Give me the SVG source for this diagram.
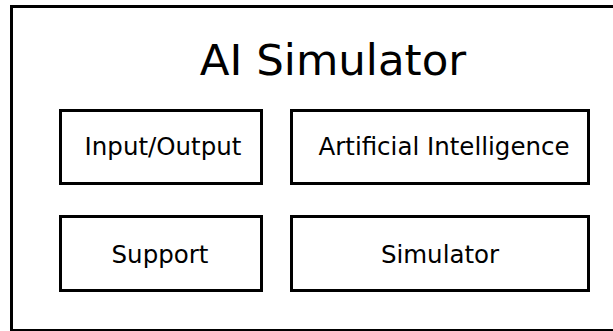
<svg xmlns="http://www.w3.org/2000/svg" width="613" height="331" viewBox="0 0 613 331">
  <style>
    .frame { fill: #ffffff; stroke: #000000; stroke-width: 3; }
    .box { fill: #ffffff; stroke: #000000; stroke-width: 3; }
    .label { font-family: "DejaVu Sans", sans-serif; font-size: 24.5px; fill: #000000; text-anchor: middle; }
    .title { font-family: "DejaVu Sans", sans-serif; font-size: 43.5px; fill: #000000; text-anchor: middle; }
  </style>
  <rect x="0" y="0" width="613" height="331" fill="#ffffff"/>
  <g id="ai-simulator">
    <rect class="frame" x="11.5" y="6.5" width="640" height="324"/>
    <text class="title" x="333" y="75">AI Simulator</text>
  </g>
  <g id="input-output">
    <rect class="box" x="60.5" y="110.5" width="201" height="73"/>
    <text class="label" x="163" y="155">Input/Output</text>
  </g>
  <g id="artificial-intelligence">
    <rect class="box" x="291.5" y="110.5" width="297" height="73"/>
    <text class="label" x="444" y="155">Artificial Intelligence</text>
  </g>
  <g id="support">
    <rect class="box" x="60.5" y="216.5" width="201" height="74"/>
    <text class="label" x="160" y="263">Support</text>
  </g>
  <g id="simulator">
    <rect class="box" x="291.5" y="216.5" width="297" height="74"/>
    <text class="label" x="440" y="263">Simulator</text>
  </g>
  <g id="connectors"/>
</svg>
